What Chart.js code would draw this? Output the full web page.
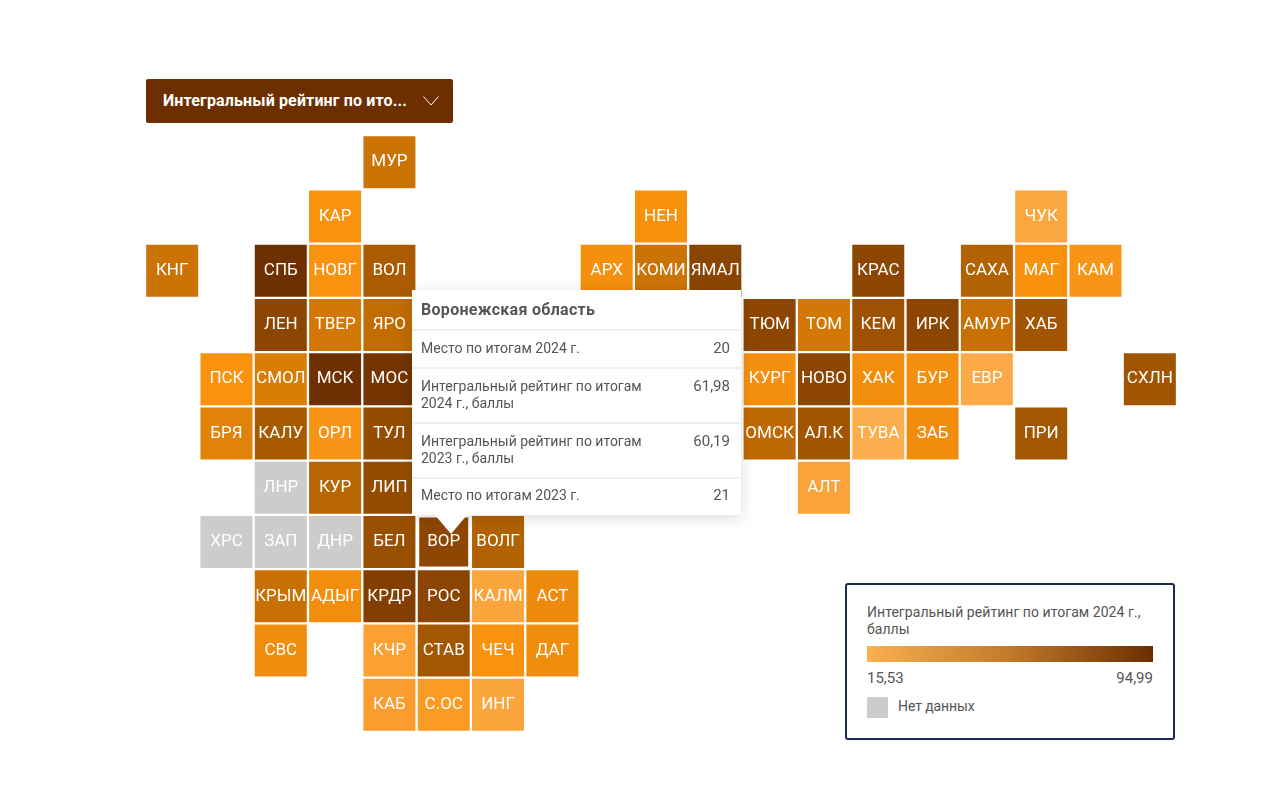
<!DOCTYPE html>
<html lang="ru">
<head>
<meta charset="utf-8">
<title>Интегральный рейтинг</title>
<script src="https://cdn.jsdelivr.net/npm/chart.js@4"></script>
<style>
  html, body { margin: 0; padding: 0; background: #fff; }
  body { width: 1280px; height: 800px; position: relative; overflow: hidden; font-family: Roboto, sans-serif; color: #555; }
  #mapWrap { position: absolute; left: 145px; top: 135px; width: 1032px; height: 597px; }
  #selectBox { position: absolute; left: 146px; top: 79px; width: 307px; height: 44px; background: #6e2f00; border-radius: 2px; color: #fff; font-size: 16px; font-weight: 700; line-height: 43px; letter-spacing: 0.14px; }
  #selectBox span { position: absolute; left: 17px; white-space: nowrap; }
  #selectBox svg { position: absolute; left: 277px; top: 17px; }
  #tip { position: absolute; left: 412px; top: 290px; width: 329px; height: 225px; background: #fff; box-shadow: 0 3px 14px rgba(0,0,0,0.14); }
  #tipArrow { position: absolute; left: 435px; top: 515px; width: 0; height: 0; border-left: 16.5px solid transparent; border-right: 16.5px solid transparent; border-top: 19px solid #fff; }
  #tipTitle { position: absolute; left: 9px; top: 10px; font-size: 16px; font-weight: 700; color: #555; line-height: 19px; letter-spacing: 0.3px; }
  .tipLine { position: absolute; left: 0; width: 329px; height: 2px; background: #efefef; }
  .tipLabel { position: absolute; left: 9px; width: 240px; font-size: 14px; line-height: 17px; }
  .tipValue { position: absolute; right: 11px; font-size: 15px; line-height: 17px; }
  #legendBox { position: absolute; left: 845px; top: 583px; width: 326px; height: 153px; border: 2px solid #1d2c57; border-radius: 3px; background: #fff; }
  #legendTitle { position: absolute; left: 20px; top: 19px; width: 290px; font-size: 14px; line-height: 17px; letter-spacing: 0.05px; }
  #legendBar { position: absolute; left: 20px; top: 61px; width: 286px; height: 16px; background: linear-gradient(to right, #f9b050, #c17a2a 50%, #6b2e00); }
  #legendMin { position: absolute; left: 20px; top: 84px; font-size: 15px; line-height: 18px; }
  #legendMax { position: absolute; right: 20px; top: 84px; font-size: 15px; line-height: 18px; }
  #legendSwatch { position: absolute; left: 20px; top: 112px; width: 21px; height: 21px; background: #cccccc; }
  #legendNoData { position: absolute; left: 51px; top: 113px; font-size: 14px; line-height: 17px; letter-spacing: -0.1px; }
</style>
</head>
<body>

<div id="selectBox">
  <span>Интегральный рейтинг по ито...</span>
  <svg width="16" height="10" viewBox="0 0 16 10"><polyline points="0.5,0.5 8,9 15.5,0.5" fill="none" stroke="#fff" stroke-width="1"/></svg>
</div>

<div id="mapWrap"><canvas id="tileMap" width="1032" height="597"></canvas></div>

<div id="tip"></div>
<div id="tipArrow"></div>

<div id="legendBox">
  <div id="legendTitle">Интегральный рейтинг по итогам 2024 г., баллы</div>
  <div id="legendBar"></div>
  <div id="legendMin">15,53</div>
  <div id="legendMax">94,99</div>
  <div id="legendSwatch"></div>
  <div id="legendNoData">Нет данных</div>
</div>

<script>
// Regions of the tile map: code, grid column, grid row, rating (null = no data)
var regionCodes = [
  "МУР",
  "КАР", "НЕН", "ЧУК",
  "КНГ", "СПБ", "НОВГ", "ВОЛ", "АРХ", "КОМИ", "ЯМАЛ", "КРАС", "САХА", "МАГ", "КАМ",
  "ЛЕН", "ТВЕР", "ЯРО", "ТЮМ", "ТОМ", "КЕМ", "ИРК", "АМУР", "ХАБ",
  "ПСК", "СМОЛ", "МСК", "МОС", "КУРГ", "НОВО", "ХАК", "БУР", "ЕВР", "СХЛН",
  "БРЯ", "КАЛУ", "ОРЛ", "ТУЛ", "ОМСК", "АЛ.К", "ТУВА", "ЗАБ", "ПРИ",
  "ЛНР", "КУР", "ЛИП", "АЛТ",
  "ХРС", "ЗАП", "ДНР", "БЕЛ", "ВОР", "ВОЛГ",
  "КРЫМ", "АДЫГ", "КРДР", "РОС", "КАЛМ", "АСТ",
  "СВС", "КЧР", "СТАВ", "ЧЕЧ", "ДАГ",
  "КАБ", "С.ОС", "ИНГ"
];
var regionCols = [
  4,
  3, 9, 16,
  0, 2, 3, 4, 8, 9, 10, 13, 15, 16, 17,
  2, 3, 4, 11, 12, 13, 14, 15, 16,
  1, 2, 3, 4, 11, 12, 13, 14, 15, 18,
  1, 2, 3, 4, 11, 12, 13, 14, 16,
  2, 3, 4, 12,
  1, 2, 3, 4, 5, 6,
  2, 3, 4, 5, 6, 7,
  2, 4, 5, 6, 7,
  4, 5, 6
];
var regionRows = [
  0,
  1, 1, 1,
  2, 2, 2, 2, 2, 2, 2, 2, 2, 2, 2,
  3, 3, 3, 3, 3, 3, 3, 3, 3,
  4, 4, 4, 4, 4, 4, 4, 4, 4, 4,
  5, 5, 5, 5, 5, 5, 5, 5, 5,
  6, 6, 6, 6,
  7, 7, 7, 7, 7, 7,
  8, 8, 8, 8, 8, 8,
  9, 9, 9, 9, 9,
  10, 10, 10
];
var ratings = [
  44,
  28, 29, 20,
  44, 92, 28, 54, 30, 44, 65, 63, 52, 29, 27,
  64, 42, 47, 63, 42, 58, 63, 45, 57,
  28, 40, 92, 85, 30, 64, 31, 30, 18, 57,
  38, 55, 27, 60, 48, 57, 16, 32, 56,
  null, 50, 60, 22,
  null, null, null, 59, 61.98, 52,
  45, 31, 72, 65, 21, 33,
  32, 23, 56, 28, 32,
  24, 25, 21
];
var hoveredCode = "ВОР";

var colorStopValues = [15.53, 22, 28, 36, 45, 55, 62, 75, 94.99];
var colorStopColors = [
  [252, 175, 80], [251, 163, 58], [249, 146, 15], [232, 135, 10], [200, 112, 4],
  [168, 90, 2], [142, 71, 2], [126, 61, 1], [107, 46, 0]
];
var noDataColor = "#cccccc";

var tooltipTitle = "Воронежская область";
var tooltipLabels = [
  "Место по итогам 2024 г.",
  "Интегральный рейтинг по итогам 2024 г., баллы",
  "Интегральный рейтинг по итогам 2023 г., баллы",
  "Место по итогам 2023 г."
];
var tooltipValues = ["20", "61,98", "60,19", "21"];

function ratingColor(value) {
  if (value === null) return noDataColor;
  for (var i = 1; i < colorStopValues.length; i++) {
    if (value <= colorStopValues[i]) {
      var t = (value - colorStopValues[i - 1]) / (colorStopValues[i] - colorStopValues[i - 1]);
      var a = colorStopColors[i - 1];
      var b = colorStopColors[i];
      return "rgb(" + Math.round(a[0] + (b[0] - a[0]) * t) + "," +
        Math.round(a[1] + (b[1] - a[1]) * t) + "," +
        Math.round(a[2] + (b[2] - a[2]) * t) + ")";
    }
  }
  return "rgb(107,46,0)";
}

// Tile codes on top of the squares
var tileLabelsPlugin = {
  id: "tileLabels",
  afterDatasetsDraw: function(chart) {
    var ctx = chart.ctx;
    var points = chart.getDatasetMeta(0).data;
    ctx.save();
    ctx.font = "17px Roboto";
    ctx.fillStyle = "#ffffff";
    ctx.textAlign = "center";
    ctx.textBaseline = "middle";
    points.forEach(function(point, i) {
      ctx.fillText(regionCodes[i], point.x, point.y);
    });
    ctx.restore();
  }
};

function buildTooltip() {
  var tip = document.getElementById("tip");
  var title = document.createElement("div");
  title.id = "tipTitle";
  title.textContent = tooltipTitle;
  tip.appendChild(title);

  var lineTops = [39, 77, 132, 187];
  var labelTops = [50, 88, 143, 197];
  tooltipLabels.forEach(function(text, i) {
    var line = document.createElement("div");
    line.className = "tipLine";
    line.style.top = lineTops[i] + "px";
    tip.appendChild(line);

    var label = document.createElement("div");
    label.className = "tipLabel";
    label.style.top = labelTops[i] + "px";
    label.textContent = text;
    tip.appendChild(label);

    var value = document.createElement("div");
    value.className = "tipValue";
    value.style.top = labelTops[i] + "px";
    value.textContent = tooltipValues[i];
    tip.appendChild(value);
  });
}

function buildMap() {
  var points = regionCodes.map(function(code, i) {
    return { x: regionCols[i], y: regionRows[i] };
  });
  var radii = regionCodes.map(function(code) {
    // a rect point of radius r has a side of r * sqrt(2)
    return (code === hoveredCode ? 49 : 52) / Math.SQRT2;
  });

  new Chart(document.getElementById("tileMap"), {
    type: "scatter",
    data: {
      datasets: [{
        data: points,
        clip: false,
        pointStyle: "rect",
        pointRadius: radii,
        pointHoverRadius: radii,
        pointBorderWidth: 0,
        pointBackgroundColor: ratings.map(ratingColor)
      }]
    },
    options: {
      responsive: false,
      animation: false,
      events: [],
      layout: { padding: 0, autoPadding: false },
      scales: {
        x: { type: "linear", display: false, min: -0.5, max: 18.5 },
        y: { type: "linear", display: false, min: -0.5, max: 10.5, reverse: true }
      },
      plugins: {
        legend: { display: false },
        tooltip: { enabled: false }
      }
    },
    plugins: [tileLabelsPlugin]
  });
}

document.addEventListener("DOMContentLoaded", function() {
  buildTooltip();
  document.fonts.load("17px Roboto").then(buildMap, buildMap);
});
</script>
</body>
</html>
